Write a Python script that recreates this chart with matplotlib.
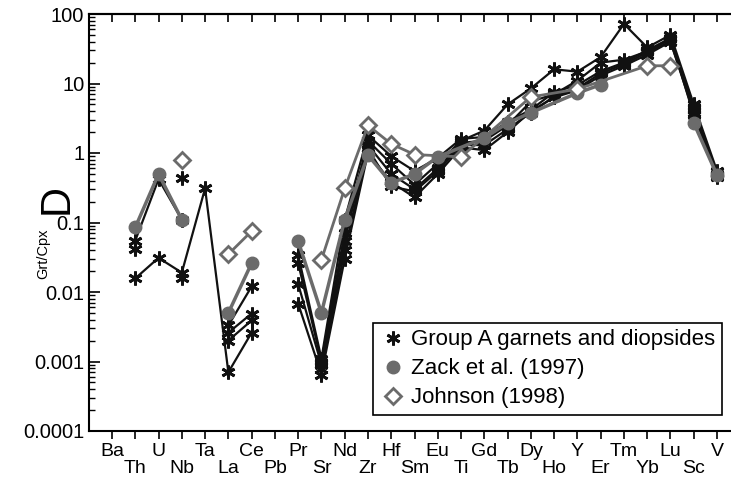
import numpy as np
import matplotlib
matplotlib.use("Agg")
import matplotlib.pyplot as plt
from matplotlib.lines import Line2D
from matplotlib.ticker import LogLocator, NullFormatter

plt.rcParams['font.family'] = ['Liberation Sans', 'DejaVu Sans']

nan = np.nan
elements = ["Ba", "Th", "U", "Nb", "Ta", "La", "Ce", "Pb", "Pr", "Sr", "Nd", "Zr", "Hf", "Sm",
            "Eu", "Ti", "Gd", "Tb", "Dy", "Ho", "Y", "Er", "Tm", "Yb", "Lu", "Sc", "V"]

# Group A garnet/diopside pairs (one list per sample)
grpA_1 = [nan, .0157, .031, .019, .31, .0007, .0026, nan, .0068, .00065, .03, 1.0, .38, .23, .5,
          1.2, 1.1, 2.0, 4.0, 6.3, 8.0, 13, 18, 26, 40, 4.2, .5]
grpA_2 = [nan, .055, .42, .11, nan, .0033, .012, nan, .034, .0011, .11, 1.8, .9, .55, .85,
          1.6, 1.7, 2.8, 4.2, 7.5, 9.5, 15, 20, 30, 45, 3.5, .5]
grpA_3 = [nan, .042, nan, .43, nan, .0026, .0049, nan, .026, .001, .07, 1.5, .7, .35, .7,
          1.5, 2.1, 5.0, 8.5, 16, 14.8, 24, 72, 33, 50, 5.0, .55]
grpA_4 = [nan, nan, nan, .0157, nan, .002, .0039, nan, .013, .0009, .055, 1.3, .5, .3, .6,
          1.4, 1.5, 2.5, 5.5, 7.0, 11, 20, 22, 29, 43, 4.6, .45]
grpA_5 = [nan, nan, nan, nan, nan, nan, nan, nan, nan, .00078, .04, 1.15, .33, .28, .55,
          1.3, 1.3, 2.2, 3.8, 6.5, 8.5, 14, 19, 28, 40, 3.8, .48]

zack = [nan, .085, .5, .11, nan, .005, .026, nan, .054, .005, .11, .93, .37, .5, .88,
        nan, 1.65, 2.7, 3.8, nan, 7.3, 9.6, nan, nan, nan, 2.7, .48]
johnson = [nan, nan, nan, .8, nan, .035, .075, nan, nan, .029, .31, 2.5, 1.35, .95, nan,
           .88, nan, nan, 6.4, nan, 8.3, nan, nan, 18, 18, nan, nan]

# which points are joined by a line
zack_segs = [[1, 2, 3], [5, 6], [8, 9, 10, 11, 12, 13, 14, 16, 17, 18, 20, 21], [25, 26]]
johnson_segs = [[3], [5, 6], [9, 10, 11, 12, 13, 15, 18, 20, 23, 24]]


def runs(vals):
    segs, cur = [], []
    for i, v in enumerate(vals):
        if np.isnan(v) or i == 8:
            if cur:
                segs.append(cur)
            cur = [] if np.isnan(v) else [i]
        else:
            cur.append(i)
    if cur:
        segs.append(cur)
    return segs


fig = plt.figure(figsize=(7.31, 4.79), dpi=100)
ax = fig.add_axes([88.5 / 731, (479 - 431) / 479, (731 - 88.5) / 731, (431 - 14) / 479])

x = np.arange(len(elements))
blk = '#111111'
gry = '#6b6b6b'
star = (6, 2, 0)

for s in [grpA_1, grpA_2, grpA_3, grpA_4, grpA_5]:
    s = np.array(s)
    for seg in runs(s):
        ax.plot(x[seg], s[seg], color=blk, lw=1.6, marker=star, ms=10, mew=2, zorder=3)

z = np.array(zack)
for seg in zack_segs:
    ax.plot(x[seg], z[seg], color=gry, lw=2.5, marker='o', ms=9, zorder=4)

j = np.array(johnson)
for seg in johnson_segs:
    ax.plot(x[seg], j[seg], color=gry, lw=2, marker='D', ms=8, mfc='white', mec=gry, mew=2, zorder=5)

ax.set_yscale('log')
ax.set_ylim(1e-4, 100)
ax.set_xlim(-1.01, 26.6)

ax.set_yticks([1e-4, 1e-3, 1e-2, 1e-1, 1, 10, 100])
ax.set_yticklabels(['0.0001', '0.001', '0.01', '0.1', '1', '10', '100'])
ax.yaxis.set_minor_locator(LogLocator(base=10, subs=np.arange(2, 10)))
ax.yaxis.set_minor_formatter(NullFormatter())
ax.tick_params(axis='y', which='major', direction='in', length=8, width=1.2, labelsize=14.5, pad=3)
ax.tick_params(axis='y', which='minor', direction='in', length=4, width=1)

ax.set_xticks(x[0::2])
ax.set_xticklabels(elements[0::2])
ax.set_xticks(x[1::2], minor=True)
ax.set_xticklabels(elements[1::2], minor=True)
ax.tick_params(axis='x', which='both', direction='out', length=6, width=1.2, labelsize=14)
ax.tick_params(axis='x', which='major', pad=3)
ax.tick_params(axis='x', which='minor', pad=15)

top = ax.secondary_xaxis('top')
top.set_xticks(x)
top.set_xticklabels([])
top.tick_params(axis='x', direction='in', length=6, width=1.2)
top.spines['top'].set_linewidth(1.5)

ax.spines['right'].set_visible(False)
for sp in ['left', 'bottom', 'top']:
    ax.spines[sp].set_linewidth(1.5)

fig.text(57 / 731, 1 - 199 / 479, 'D', rotation=90, fontsize=30, ha='center', va='center')
fig.text(43 / 731, 1 - 254 / 479, 'Grt/Cpx', rotation=90, fontsize=10.5, ha='center', va='center')

handles = [
    Line2D([], [], ls='none', color=blk, marker=star, ms=10, mew=2),
    Line2D([], [], ls='none', color=gry, marker='o', ms=9),
    Line2D([], [], ls='none', color=gry, marker='D', ms=8, mfc='white', mec=gry, mew=2),
]
leg = ax.legend(handles, ['Group A garnets and diopsides', 'Zack et al. (1997)', 'Johnson (1998)'],
                loc='lower right', bbox_to_anchor=(0.986, 0.038), borderaxespad=0,
                fontsize=16, handlelength=1.2, handletextpad=0.2, labelspacing=0.36,
                fancybox=False, framealpha=1, edgecolor='black', borderpad=0.3)
leg.get_frame().set_linewidth(1.2)

fig.savefig('out.png', dpi=100)
